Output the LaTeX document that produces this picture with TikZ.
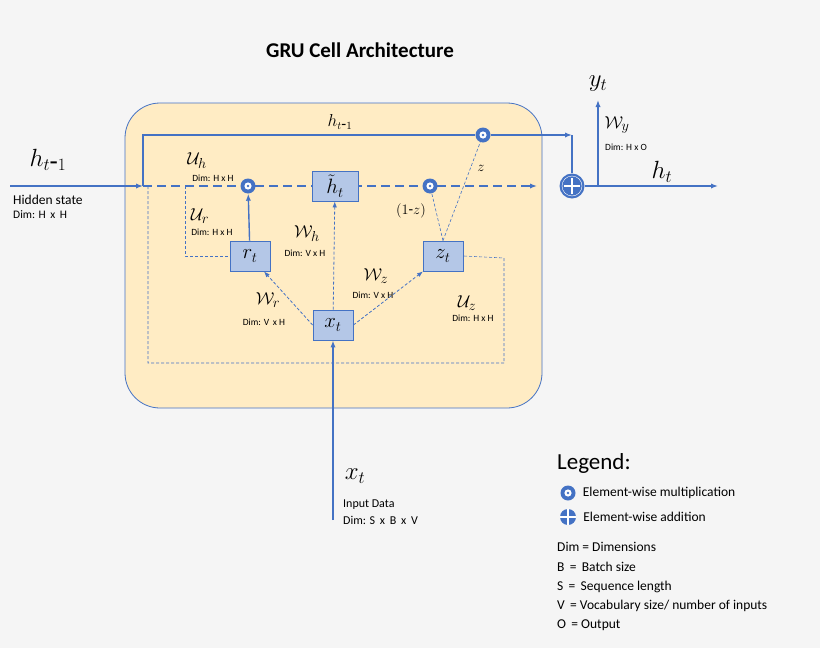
\documentclass[tikz,border=0pt]{standalone}
\usepackage{fontspec}
\setmainfont{Carlito}
\usetikzlibrary{arrows.meta, positioning, calc, backgrounds}
\definecolor{cellBlue}{RGB}{68, 114, 196}
\definecolor{boxBlue}{RGB}{180, 199, 231}
\definecolor{cellYellow}{RGB}{255, 236, 196}
\definecolor{pageGray}{RGB}{245, 245, 245}
\tikzset{
    % Gate boxes
    gate/.style={
        rectangle,
        draw=cellBlue,
        fill=boxBlue,
        thick,
        minimum width=40pt,
        minimum height=30pt,
        font=\fontsize{21}{24}\selectfont
    },
    % Element-wise operations
    mult/.style={circle, fill=cellBlue, minimum size=15pt, inner sep=0pt,
        path picture={\fill[white] (path picture bounding box.center) circle (3.6pt);
                      \fill[cellBlue] (path picture bounding box.center) circle (1.4pt);}},
    plus/.style={circle, fill=cellBlue, minimum size=25pt, inner sep=0pt,
        path picture={\draw[white, line width=2.5pt]
            ($(path picture bounding box.center)+(-8pt,0)$) -- ++(16pt,0)
            ($(path picture bounding box.center)+(0,-8pt)$) -- ++(0,16pt);
            \draw[white, thin] (path picture bounding box.center) circle (10pt);}},
    % Connectors
    flow/.style={-{Latex[length=7pt]}, draw=cellBlue, line width=1.4pt},
    mainDash/.style={-{Latex[length=7pt]}, draw=cellBlue, line width=2pt, dash pattern=on 9pt off 5pt},
    thinDash/.style={draw=cellBlue, semithick, dash pattern=on 3pt off 2pt},
    thinFlow/.style={-{Latex[length=6pt]}, draw=cellBlue, thick},
    % Labels
    wlbl/.style={font=\fontsize{19}{22}\selectfont, inner sep=0pt},
    bigLbl/.style={font=\fontsize{27}{30}\selectfont, inner sep=0pt},
    dimlbl/.style={font=\fontsize{9.5}{11}\selectfont, inner sep=0pt},
    txt/.style={font=\fontsize{13.5}{16}\selectfont, anchor=west, inner sep=0pt}
}
\begin{document}
\begin{tikzpicture}[x=1pt, y=-1pt]
    \useasboundingbox (0,0) rectangle (820,648);

    % --- Title ---
    \node (title) [font=\bfseries\fontsize{21}{24}\selectfont] at (360,50) {GRU Cell Architecture};

    % --- Gates ---
    \node (hcand) [gate, minimum width=46pt] at (335,186) {$\tilde{h}_t$};
    \node (rt) [gate] at (250,256) {$r_t$};
    \node (zt) [gate] at (443,256) {$z_t$};
    \node (xt) [gate] at (333,325) {$x_t$};

    % --- Operations ---
    \node (multR) [mult] at (248,186) {};
    \node (multZ) [mult] at (430,186) {};
    \node (multTop) [mult] at (483,135) {};
    \node (add) [plus] at (572,186) {};

    % --- Junctions ---
    \coordinate (hin) at (10,186);
    \coordinate (split) at (143,186);
    \coordinate (loopZ) at (148,186);
    \coordinate (loopR) at (185,186);
    \coordinate (mainEnd) at (537,186);
    \coordinate (hout) at (718,186);
    \coordinate (ybase) at (598,186);
    \coordinate (yout) at (598,100);
    \coordinate (xin) at (333,520);
    \coordinate (topCorner) at (572,135);

    \begin{scope}[on background layer]
        \fill[pageGray] (0,0) rectangle (820,648);
        % --- Cell frame ---
        \draw[cellBlue, fill=cellYellow, thick, rounded corners=35pt] (125,103) rectangle (542,408);

        % --- Hidden state path ---
        \draw [flow] (hin) -- (split);
        \draw [mainDash] (split) -- (mainEnd);
        \draw [flow, -] (split) |- (multTop);
        \draw [flow] (multTop) -- (topCorner);
        \draw [flow, -] (topCorner) -- (add);
        \draw [flow] (add) -- (hout);
        \draw [flow] (ybase) -- (yout);
        \draw [flow] (xin) -- (xt);
        \draw [flow] (rt) -- (multR);

        % --- Recurrent loops ---
        \draw [thinDash] (loopR) |- (rt);
        \draw [thinDash] (loopZ) -- (148,363) -| (504,258) -- (zt.east);

        % --- Input weights ---
        \draw [thinFlow, dash pattern=on 3pt off 2pt] (xt.west) -- (rt);
        \draw [thinFlow, dash pattern=on 3pt off 2pt] (xt) -- (hcand);
        \draw [thinFlow, dash pattern=on 3pt off 2pt] (xt.east) -- (zt);
        \draw [thinDash] (zt.north) -- (multTop);
        \draw [thinDash] (zt.north) -- (multZ);
    \end{scope}

    % --- Weight labels ---
    \node [wlbl] at (197,161) {$\mathcal{U}_h$};
    \node [dimlbl] at (213,178) {Dim: H x H};
    \node [wlbl] at (200,216) {$\mathcal{U}_r$};
    \node [dimlbl] at (212,232) {Dim: H x H};
    \node [wlbl] at (307,234) {$\mathcal{W}_h$};
    \node [dimlbl] at (305,253) {Dim: V x H};
    \node [wlbl] at (376,276) {$\mathcal{W}_z$};
    \node [dimlbl] at (373,295) {Dim: V x H};
    \node [wlbl] at (268,300) {$\mathcal{W}_r$};
    \node [dimlbl] at (264,322) {Dim: V\,  x H};
    \node [wlbl] at (467,303) {$\mathcal{U}_z$};
    \node [dimlbl] at (473,318) {Dim: H x H};
    \node [font=\fontsize{15}{18}\selectfont, inner sep=0pt] at (411,211) {$(1\mbox{-}z)$};
    \node [font=\fontsize{14}{16}\selectfont, inner sep=0pt] at (481,168) {$z$};
    \node [font=\fontsize{16}{18}\selectfont, inner sep=0pt] at (340,122) {$h_{t\mbox{-}1}$};

    % --- Outer labels ---
    \node [bigLbl] at (48,160) {$h_{t\mbox{-}1}$};
    \node [txt] at (13,200) {Hidden state};
    \node [txt, font=\fontsize{11.5}{14}\selectfont] at (13,215) {Dim: H\, x\, H};
    \node [bigLbl] at (598,84) {$y_t$};
    \node [wlbl] at (617,125) {$\mathcal{W}_y$};
    \node [dimlbl] at (626,147) {Dim: H x O};
    \node [bigLbl] at (662,172) {$h_t$};
    \node [bigLbl] at (355,476) {$x_t$};
    \node [txt, font=\fontsize{12}{14}\selectfont] at (343,505) {Input Data};
    \node [txt, font=\fontsize{12}{14}\selectfont] at (343,520) {Dim: S\, x\, B\, x\, V};

    % --- Legend ---
    \node (legend) [font=\fontsize{23}{26}\selectfont, anchor=west, inner sep=0pt] at (557,463) {Legend:};
    \node (legMult) [mult] at (568,493) {};
    \node [txt, right=7pt of legMult] {Element-wise multiplication};
    \node (legAdd) [plus, minimum size=16pt] at (568,517) {};
    \node [txt, right=7pt of legAdd] {Element-wise addition};
    \node [txt] at (557,547) {Dim = Dimensions};
    \node [txt] at (557,567) {B\, =\, Batch size};
    \node [txt] at (557,587) {S\, =\, Sequence length};
    \node [txt] at (557,606) {V\, = Vocabulary size/ number of inputs};
    \node [txt] at (557,625) {O\, = Output};
\end{tikzpicture}
\end{document}
